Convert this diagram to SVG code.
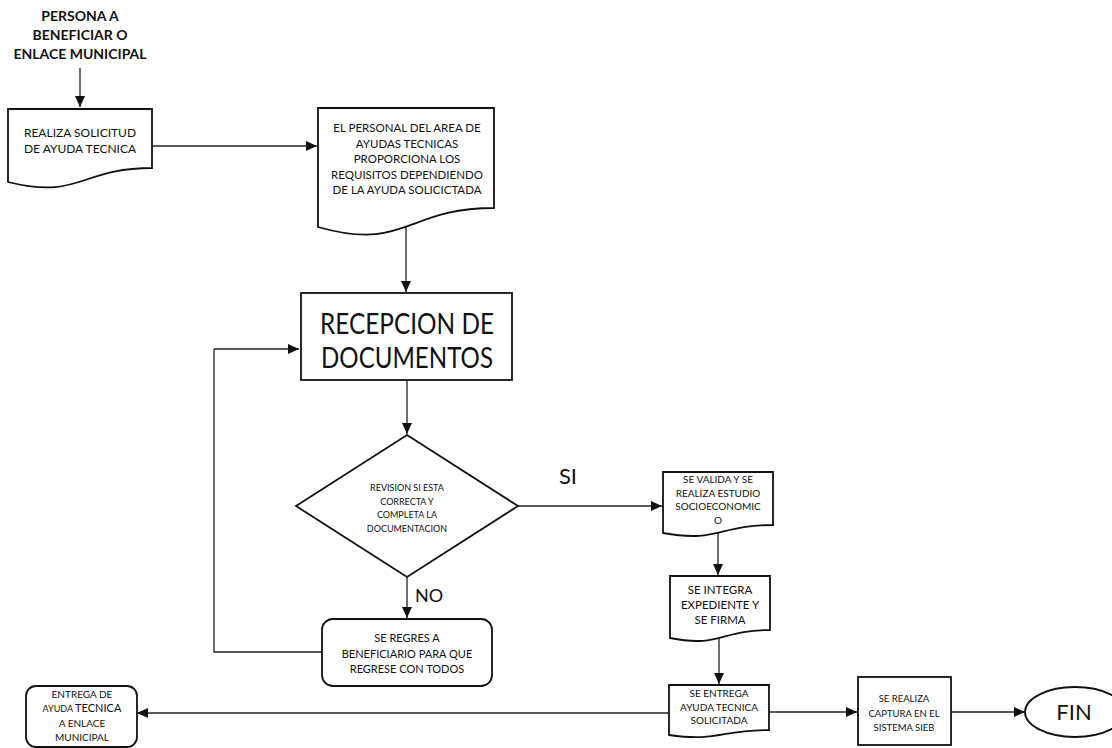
<svg xmlns="http://www.w3.org/2000/svg" width="1112" height="748" viewBox="0 0 1112 748">
<defs>
<marker id="ah" markerUnits="userSpaceOnUse" markerWidth="12" markerHeight="10" refX="11" refY="5" orient="auto">
<path d="M0,0 L11,5 L0,10 Z" fill="#111"/>
</marker>
<style>
.s{fill:#fff;stroke:#111;stroke-width:1.8}
.c{fill:none;stroke:#222;stroke-width:1.3}
.a{fill:none;stroke:#222;stroke-width:1.3;marker-end:url(#ah)}
text{font-family:Lato,"Liberation Sans",sans-serif;fill:#111;text-anchor:middle}
.b{font-weight:bold}
</style>
</defs>
<rect width="1112" height="748" fill="#fff"/>

<g id="connectors">
<path class="a" d="M80,68 V107"/>
<path class="a" d="M152,146 H317"/>
<path class="a" d="M406,224 V292"/>
<path class="a" d="M407,380 V434"/>
<path class="a" d="M518,506 H662"/>
<path class="a" d="M407,577 V618"/>
<path class="c" d="M322,652 H214 V349"/>
<path class="a" d="M214,349 H299"/>
<path class="a" d="M718,531 V575"/>
<path class="a" d="M719,636 V684"/>
<path class="a" d="M669,713 H137"/>
<path class="a" d="M769,712 H857"/>
<path class="a" d="M951,712 H1025"/>
<text x="568" y="484" style="font-size:22px">SI</text>
<text x="429" y="602" style="font-size:18px">NO</text>
</g>

<g id="start">
<text class="b" x="80" y="21" style="font-size:14px">PERSONA A</text>
<text class="b" x="80" y="40" style="font-size:14px">BENEFICIAR O</text>
<text class="b" x="80" y="59" style="font-size:14px">ENLACE MUNICIPAL</text>
</g>

<g id="n1">
<path class="s" d="M8,109 H152 V168 C80,168 80,200 8,182 Z"/>
<text x="80" y="137" style="font-size:12px">REALIZA SOLICITUD</text>
<text x="80" y="153" style="font-size:12px">DE AYUDA TECNICA</text>
</g>

<g id="n2">
<path class="s" d="M318,108 H494 V208 C406,208 406,252 318,227 Z"/>
<g style="font-size:11.5px">
<text x="407" y="132">EL PERSONAL DEL AREA DE</text>
<text x="407" y="147.5">AYUDAS TECNICAS</text>
<text x="407" y="163">PROPORCIONA LOS</text>
<text x="407" y="178.5">REQUISITOS DEPENDIENDO</text>
<text x="407" y="194">DE LA AYUDA SOLICICTADA</text>
</g>
</g>

<g id="n3">
<rect class="s" x="301" y="293" width="211" height="87"/>
<text x="407" y="334" style="font-size:28px" textLength="174" lengthAdjust="spacingAndGlyphs">RECEPCION DE</text>
<text x="407" y="368" style="font-size:28px" textLength="172" lengthAdjust="spacingAndGlyphs">DOCUMENTOS</text>
</g>

<g id="n4">
<path class="s" d="M407,435 L518,506 L407,577 L296,506 Z"/>
<g style="font-size:9px">
<text x="407" y="491">REVISION SI ESTA</text>
<text x="407" y="504.5">CORRECTA Y</text>
<text x="407" y="518">COMPLETA LA</text>
<text x="407" y="532">DOCUMENTACION</text>
</g>
</g>

<g id="n5">
<rect class="s" x="322" y="619" width="170" height="67" rx="11"/>
<g style="font-size:11px">
<text x="407" y="642">SE REGRES A</text>
<text x="407" y="658">BENEFICIARIO PARA QUE</text>
<text x="407" y="673">REGRESE CON TODOS</text>
</g>
</g>

<g id="n6">
<path class="s" d="M663,472 H773 V525 C718,525 718,543 663,533 Z"/>
<g style="font-size:10px">
<text x="718" y="483">SE VALIDA Y SE</text>
<text x="718" y="497">REALIZA ESTUDIO</text>
<text x="718" y="510">SOCIOECONOMIC</text>
<text x="718" y="524">O</text>
</g>
</g>

<g id="n7">
<path class="s" d="M670,576 H770 V630 C720,630 720,648 670,638 Z"/>
<g style="font-size:11.5px">
<text x="720" y="594">SE INTEGRA</text>
<text x="720" y="609">EXPEDIENTE Y</text>
<text x="720" y="624">SE FIRMA</text>
</g>
</g>

<g id="n8">
<path class="s" d="M669,685 H769 V730 C719,730 719,742 669,735 Z"/>
<g style="font-size:10px">
<text x="719" y="697">SE ENTREGA</text>
<text x="719" y="711">AYUDA TECNICA</text>
<text x="719" y="724">SOLICITADA</text>
</g>
</g>

<g id="n9">
<rect class="s" x="858" y="677" width="93" height="68"/>
<g style="font-size:9.5px">
<text x="904" y="702">SE REALIZA</text>
<text x="904" y="717">CAPTURA EN EL</text>
<text x="904" y="731">SISTEMA SIEB</text>
</g>
</g>

<g id="n10">
<rect class="s" x="26" y="686" width="111" height="61" rx="10"/>
<g style="font-size:10px">
<text x="82" y="698">ENTREGA DE</text>
<text x="82" y="712"><tspan style="font-size:9px">AYUDA </tspan><tspan style="font-size:11px">TECNICA</tspan></text>
<text x="82" y="727">A ENLACE</text>
<text x="82" y="741">MUNICIPAL</text>
</g>
</g>

<g id="fin">
<ellipse class="s" cx="1075" cy="712" rx="50" ry="25"/>
<text x="1074" y="720" style="font-size:22px">FIN</text>
</g>
</svg>
